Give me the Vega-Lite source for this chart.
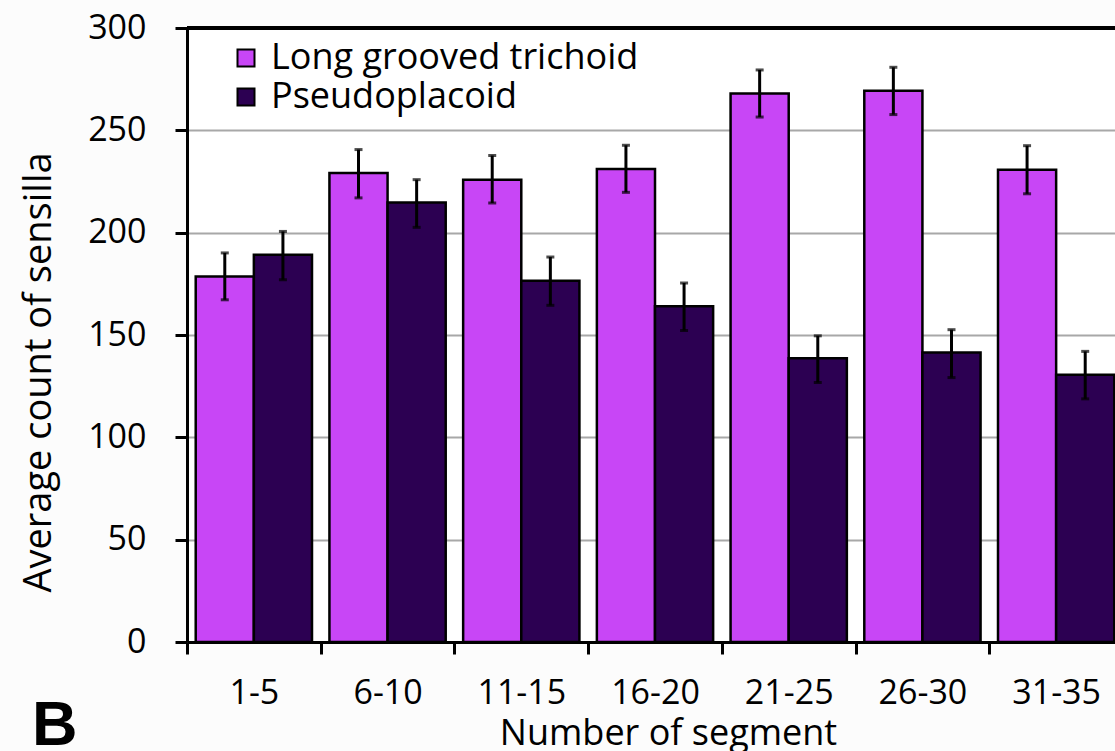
{
  "$schema": "https://vega.github.io/schema/vega-lite/v6.json",
  "width": 928,
  "height": 614,
  "autosize": {"type": "none"},
  "padding": {"left": 187, "top": 28, "right": 0, "bottom": 109},
  "background": "#fcfcfc",
  "config": {
    "view": {"stroke": null, "fill": "white"},
    "font": "Open Sans"
  },
  "title": {
    "text": "B",
    "orient": "bottom",
    "anchor": "start",
    "frame": "group",
    "font": "Liberation Sans",
    "fontSize": 63,
    "fontWeight": "bold",
    "color": "black",
    "baseline": "alphabetic",
    "dx": -155,
    "dy": -10
  },
  "data": {
    "values": [
      {"segment": "1-5", "type": "Long grooved trichoid", "mean": 178.6, "lower": 167.2, "upper": 190.1},
      {"segment": "1-5", "type": "Pseudoplacoid", "mean": 189.2, "lower": 177.0, "upper": 200.6},
      {"segment": "6-10", "type": "Long grooved trichoid", "mean": 229.2, "lower": 217.0, "upper": 240.6},
      {"segment": "6-10", "type": "Pseudoplacoid", "mean": 214.8, "lower": 202.6, "upper": 225.9},
      {"segment": "11-15", "type": "Long grooved trichoid", "mean": 225.9, "lower": 214.5, "upper": 237.7},
      {"segment": "11-15", "type": "Pseudoplacoid", "mean": 176.5, "lower": 164.5, "upper": 188.1},
      {"segment": "16-20", "type": "Long grooved trichoid", "mean": 231.1, "lower": 219.7, "upper": 242.7},
      {"segment": "16-20", "type": "Pseudoplacoid", "mean": 164.0, "lower": 152.2, "upper": 175.4},
      {"segment": "21-25", "type": "Long grooved trichoid", "mean": 268.0, "lower": 256.5, "upper": 279.5},
      {"segment": "21-25", "type": "Pseudoplacoid", "mean": 138.7, "lower": 126.8, "upper": 149.6},
      {"segment": "26-30", "type": "Long grooved trichoid", "mean": 269.4, "lower": 257.7, "upper": 280.8},
      {"segment": "26-30", "type": "Pseudoplacoid", "mean": 141.5, "lower": 129.2, "upper": 152.6},
      {"segment": "31-35", "type": "Long grooved trichoid", "mean": 230.8, "lower": 219.0, "upper": 242.5},
      {"segment": "31-35", "type": "Pseudoplacoid", "mean": 130.6, "lower": 118.8, "upper": 142.0}
    ]
  },
  "layer": [
    {
      "mark": {"type": "bar", "stroke": "black", "strokeWidth": 2.5},
      "encoding": {
        "x": {
          "field": "segment",
          "type": "nominal",
          "sort": ["1-5", "6-10", "11-15", "16-20", "21-25", "26-30", "31-35"],
          "scale": {"paddingInner": 0, "paddingOuter": 0, "rangeMax": 936},
          "axis": {
            "title": "Number of segment",
            "labelAngle": 0,
            "labelFontSize": 34,
            "labelColor": "black",
            "labelPadding": 22,
            "tickBand": "extent",
            "tickSize": 12,
            "tickWidth": 3,
            "tickColor": "black",
            "domainColor": "black",
            "domainWidth": 3,
            "titleFontSize": 36,
            "titleFontWeight": "normal",
            "titleColor": "black",
            "titleBaseline": "top",
            "titleX": 481,
            "titleY": 74
          }
        },
        "xOffset": {"field": "type", "scale": {"paddingOuter": 0.15, "paddingInner": 0}},
        "y": {
          "field": "mean",
          "type": "quantitative",
          "scale": {"domain": [0, 300], "nice": false},
          "axis": {
            "title": "Average count of sensilla",
            "values": [0, 50, 100, 150, 200, 250, 300],
            "labelFontSize": 34,
            "labelColor": "black",
            "labelPadding": 29,
            "tickSize": 12,
            "tickWidth": 3,
            "tickColor": "black",
            "domainColor": "black",
            "domainWidth": 3,
            "gridColor": "#a8a8a8",
            "gridWidth": 2,
            "titleFontSize": 38,
            "titleFontWeight": "normal",
            "titleColor": "black",
            "titleX": -129,
            "titleY": 344
          }
        },
        "color": {
          "field": "type",
          "type": "nominal",
          "scale": {"domain": ["Long grooved trichoid", "Pseudoplacoid"], "range": ["#c846f6", "#2c0052"]},
          "legend": {
            "title": null,
            "orient": "none",
            "legendX": 41,
            "legendY": 12,
            "symbolType": "square",
            "symbolSize": 289,
            "symbolStrokeColor": "black",
            "symbolStrokeWidth": 2,
            "symbolOpacity": 1,
            "labelFontSize": 36,
            "labelColor": "black",
            "labelOffset": 7,
            "labelLimit": 0,
            "rowPadding": 3,
            "padding": 0
          }
        }
      }
    },
    {
      "mark": {"type": "rule", "color": "black", "strokeWidth": 3},
      "encoding": {
        "x": {"field": "segment", "type": "nominal", "sort": ["1-5", "6-10", "11-15", "16-20", "21-25", "26-30", "31-35"]},
        "xOffset": {"field": "type"},
        "y": {"field": "lower", "type": "quantitative"},
        "y2": {"field": "upper"}
      }
    },
    {
      "mark": {"type": "tick", "color": "black", "size": 8, "thickness": 3},
      "encoding": {
        "x": {"field": "segment", "type": "nominal", "sort": ["1-5", "6-10", "11-15", "16-20", "21-25", "26-30", "31-35"]},
        "xOffset": {"field": "type"},
        "y": {"field": "lower", "type": "quantitative"}
      }
    },
    {
      "mark": {"type": "tick", "color": "black", "size": 8, "thickness": 3},
      "encoding": {
        "x": {"field": "segment", "type": "nominal", "sort": ["1-5", "6-10", "11-15", "16-20", "21-25", "26-30", "31-35"]},
        "xOffset": {"field": "type"},
        "y": {"field": "upper", "type": "quantitative"}
      }
    },
    {
      "mark": {"type": "rule", "color": "black", "strokeWidth": 3},
      "encoding": {
        "y": {"datum": 300}
      }
    }
  ]
}
